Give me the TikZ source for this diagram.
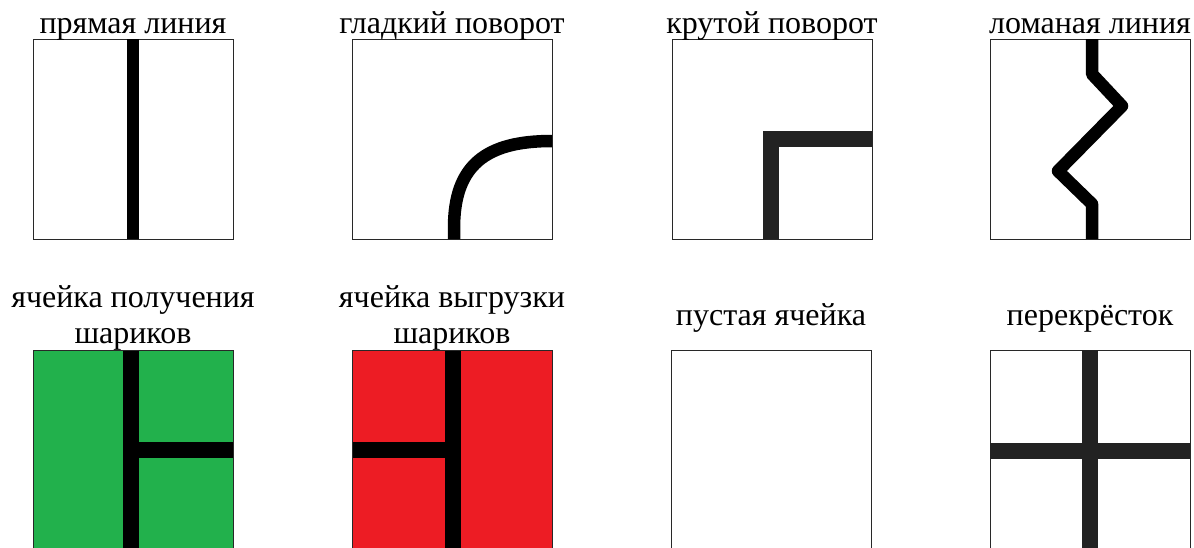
\documentclass[tikz,border=0pt]{standalone}
\usepackage{fontspec}
\setmainfont{Liberation Serif}
\definecolor{tilegreen}{RGB}{34,177,76}
\definecolor{tilered}{RGB}{237,28,36}
\definecolor{barblack}{RGB}{0,0,0}
\definecolor{bargray}{RGB}{34,34,34}
\definecolor{frame}{RGB}{40,40,40}
\begin{document}
\begin{tikzpicture}[x=1pt,y=-1pt,
  tile/.style={draw=frame,line width=1pt,minimum width=200pt,minimum height=200pt,inner sep=0pt,outer sep=0pt,anchor=north west},
  lbl/.style={font=\fontsize{32}{36}\selectfont,inner sep=0pt,anchor=base,align=center},
  track/.style={line width=12.5pt,draw=barblack},
  thick track/.style={line width=16pt,draw=bargray,line cap=butt},
  ]
\useasboundingbox (0,0) rectangle (1194,547);
\clip (0,0) rectangle (1194,547);
\fill[white] (0,0) rectangle (1194,547);
% row 1 tiles
\node[tile] (t1) at (33,39) {};
\node[tile] (t2) at (352,39) {};
\node[tile] (t3) at (672,39) {};
\node[tile] (t4) at (990,39) {};
% row 2 tiles
\node[tile,fill=tilegreen] (t5) at (33,350) {};
\node[tile,fill=tilered] (t6) at (352,350) {};
\node[tile] (t7) at (671,350) {};
\node[tile] (t8) at (990,350) {};
% labels
\node[lbl] (l1) at (133,33) {прямая линия};
\node[lbl] (l2) at (452,33) {гладкий поворот};
\node[lbl] (l3) at (772,33) {крутой поворот};
\node[lbl] (l4) at (1090,33) {ломаная линия};
\node[lbl] (l5) at (133,307) {ячейка получения};
\node[lbl] (l5b) at (133,343) {шариков};
\node[lbl] (l6) at (452,307) {ячейка выгрузки};
\node[lbl] (l6b) at (452,343) {шариков};
\node[lbl] (l7) at (771,325) {пустая ячейка};
\node[lbl] (l8) at (1090,325) {перекрёсток};
% straight line
\draw[track] (t1.north) -- (t1.south);
% smooth turn
\draw[track] (454,239) -- (454,228) .. controls (454,165) and (486,141) .. (552,141);
% sharp turn
\draw[thick track,line join=miter] (771,239) -- (771,139) -- (t3.east |- 0,139);
% broken line
\draw[track,line join=round] (1092,39) -- (1092,74) -- (1122,106) -- (1058,171) -- (1092,204) -- (1092,239);
% receive cell
\draw[line width=16pt,draw=barblack] (131,350) -- (131,560);
\draw[line width=16pt,draw=barblack] (131,450) -- (233,450);
\draw[frame,line width=0.8pt] (t5.north west) rectangle (233,560);
% unload cell
\draw[line width=16pt,draw=barblack] (453,350) -- (453,560);
\draw[line width=16pt,draw=barblack] (352,450) -- (453,450);
\draw[frame,line width=0.8pt] (t6.north west) rectangle (552,560);
% crossing
\draw[thick track] (1090,350) -- (1090,560);
\draw[thick track] (990,451) -- (1190,451);
\end{tikzpicture}
\end{document}
